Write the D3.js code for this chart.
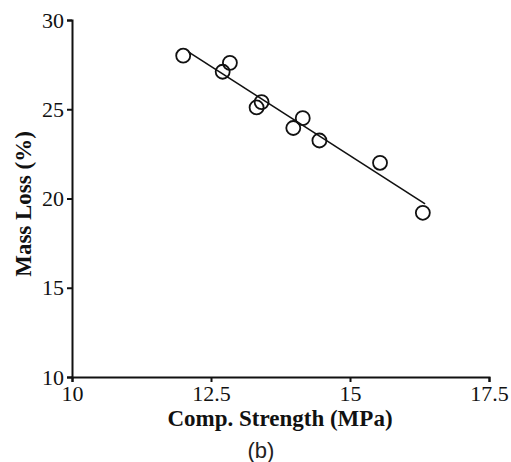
<!DOCTYPE html>
<html>
<head>
<meta charset="utf-8">
<script src="https://cdn.jsdelivr.net/npm/d3@7"></script>
<style>
  body { margin: 0; background: #fff; }
  .domain, .tick line { stroke: #111; stroke-width: 2; }
</style>
</head>
<body>
<script>
// scatter: compressive strength vs mass loss
var strength = [12.0, 12.71, 12.84, 13.32, 13.41, 13.98, 14.15, 14.45, 15.54, 16.31];
var massLoss = [28.0, 27.1, 27.6, 25.1, 25.4, 23.95, 24.5, 23.25, 22.0, 19.2];

// fitted line, two ends
var fitX = [12.1, 16.35];
var fitY = [28.2, 19.7];

var xTicks = [10, 12.5, 15, 17.5];
var yTicks = [10, 15, 20, 25, 30];

var width = 511;
var height = 462;
var serif = '"Liberation Serif", "Times New Roman", serif';

var svg = d3.select('body').append('svg')
  .attr('width', width)
  .attr('height', height);

var x = d3.scaleLinear().domain([10, 17.5]).range([72, 489]);
var y = d3.scaleLinear().domain([10, 30]).range([377, 20]);

var xAxis = svg.append('g')
  .attr('transform', 'translate(0,' + y(10) + ')')
  .call(d3.axisBottom(x).tickValues(xTicks).tickFormat(d3.format('')).tickSizeOuter(0).tickSize(5).tickPadding(3));

var yAxis = svg.append('g')
  .attr('transform', 'translate(' + x(10) + ',0)')
  .call(d3.axisLeft(y).tickValues(yTicks).tickSizeOuter(0).tickSize(5).tickPadding(3));

[xAxis, yAxis].forEach(function(g) {
  g.attr('font-family', serif).attr('font-size', 22);
  g.selectAll('text').attr('fill', '#111');
});

svg.append('line')
  .attr('x1', x(fitX[0]))
  .attr('y1', y(fitY[0]))
  .attr('x2', x(fitX[1]))
  .attr('y2', y(fitY[1]))
  .attr('stroke', '#111')
  .attr('stroke-width', 1.6);

svg.selectAll('circle.pt')
  .data(strength)
  .enter().append('circle')
  .attr('class', 'pt')
  .attr('cx', function(d) { return x(d); })
  .attr('cy', function(d, i) { return y(massLoss[i]); })
  .attr('r', 7)
  .attr('fill', 'none')
  .attr('stroke', '#111')
  .attr('stroke-width', 1.8);

svg.append('text')
  .attr('x', 280)
  .attr('y', 426)
  .attr('text-anchor', 'middle')
  .attr('font-family', serif)
  .attr('font-weight', 'bold')
  .attr('font-size', 23)
  .attr('fill', '#111')
  .text('Comp. Strength (MPa)');

svg.append('text')
  .attr('transform', 'translate(31,204) rotate(-90)')
  .attr('text-anchor', 'middle')
  .attr('font-family', serif)
  .attr('font-weight', 'bold')
  .attr('font-size', 23)
  .attr('fill', '#111')
  .text('Mass Loss (%)');

svg.append('text')
  .attr('x', 261)
  .attr('y', 458)
  .attr('text-anchor', 'middle')
  .attr('font-family', '"Liberation Sans", Arial, sans-serif')
  .attr('font-size', 22)
  .attr('fill', '#222')
  .text('(b)');
</script>
</body>
</html>
